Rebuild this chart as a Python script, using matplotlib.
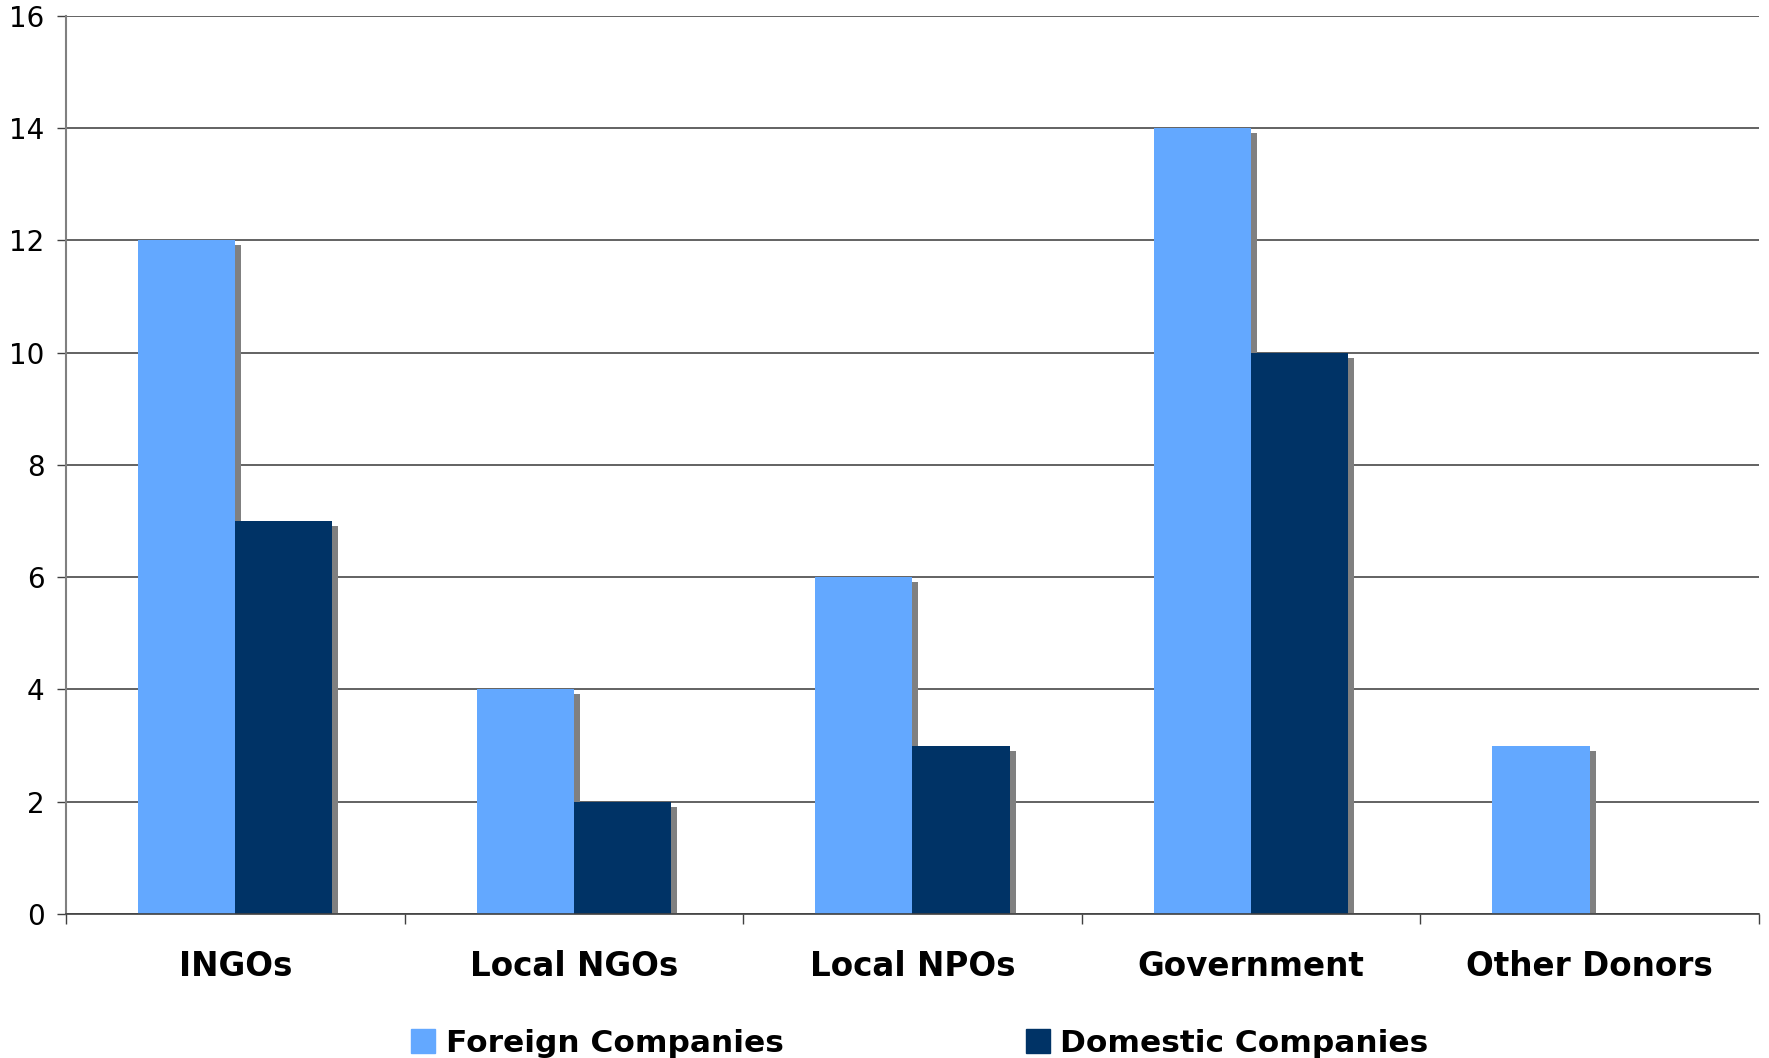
import numpy as np
import matplotlib
matplotlib.use('Agg')
import matplotlib.pyplot as plt
import matplotlib.transforms as mtransforms
from matplotlib.patches import Patch

categories = ['INGOs', 'Local NGOs', 'Local NPOs', 'Government', 'Other Donors']
foreign = [12, 4, 6, 14, 3]
domestic = [7, 2, 3, 10, 0]
series_names = ['Foreign Companies', 'Domestic Companies']
yticks = [0, 2, 4, 6, 8, 10, 12, 14, 16]

c_foreign = '#63A8FF'
c_domestic = '#003366'
c_shadow = '#808080'

fig = plt.figure(figsize=(17.69, 10.58), dpi=100)
ax = fig.add_axes([0.0373, 0.1361, 0.957, 0.8488])

x = np.arange(len(categories))
w = 0.287

# drop shadow: same bars shifted a few pixels right and down
shadow = mtransforms.offset_copy(ax.transData, fig=fig, x=6, y=-5, units='dots')

ax.bar(x - w/2, foreign, w, color=c_shadow, transform=shadow, zorder=2, linewidth=0)
ax.bar(x - w/2, foreign, w, color=c_foreign, zorder=3, linewidth=0)
ax.bar(x + w/2, domestic, w, color=c_shadow, transform=shadow, zorder=4, linewidth=0)
ax.bar(x + w/2, domestic, w, color=c_domestic, zorder=5, linewidth=0)

ax.set_xlim(-0.5, len(categories) - 0.5)
ax.set_ylim(0, 16)
ax.set_yticks(yticks)
ax.yaxis.grid(True, color='#383838', linewidth=1.1, zorder=0)
ax.set_axisbelow(True)

# ticks on group boundaries, labels at group centres
ax.set_xticks(np.arange(-0.5, len(categories), 1.0))
ax.set_xticklabels([])
ax.set_xticks(x, minor=True)
ax.set_xticklabels(categories, minor=True, fontsize=23.5, fontweight='bold')
ax.tick_params(axis='x', which='minor', length=0, pad=26)
ax.tick_params(axis='x', which='major', length=7.5, width=1, color='#404040', direction='out')
ax.tick_params(axis='y', length=6.5, width=1, color='#404040', labelsize=20, pad=9)

for s in ['top', 'right']:
    ax.spines[s].set_visible(False)
ax.spines['left'].set_color('#808080')
ax.spines['left'].set_linewidth(1.5)
ax.spines['bottom'].set_color('#404040')
ax.spines['bottom'].set_linewidth(1.2)
ax.spines['bottom'].set_zorder(6)

handles = [Patch(color=c_foreign), Patch(color=c_domestic)]
leg = fig.legend(handles, series_names, loc='center left', bbox_to_anchor=(0.2235, 0.014),
                 ncol=2, frameon=False, prop={'size': 22.5, 'weight': 'bold'},
                 handlelength=0.78, handleheight=0.85, handletextpad=0.33,
                 columnspacing=7.75, borderpad=0)

fig.savefig('out.png', dpi=100)
